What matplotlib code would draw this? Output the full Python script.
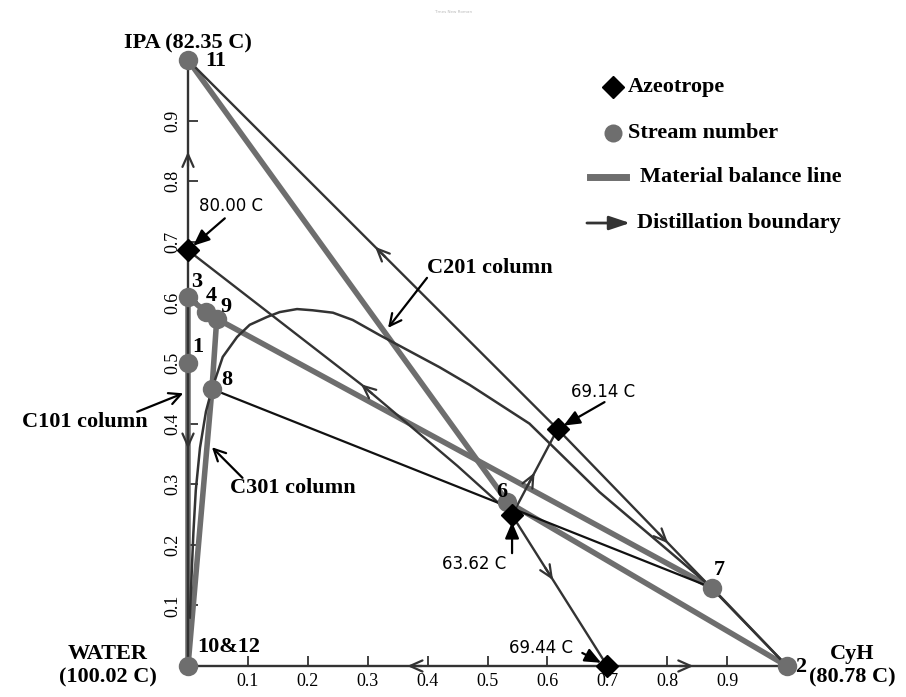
import numpy as np
import matplotlib.pyplot as plt

plt.rcParams['font.family'] = ['Liberation Serif', 'DejaVu Serif']

# x = CyH fraction, y = IPA fraction (water is the rest)
corner_names = ['WATER', 'CyH', 'IPA']
corner_x = [0.0, 1.0, 0.0]
corner_y = [0.0, 0.0, 1.0]

stream_names = ['11', '3', '4', '9', '1', '8', '6', '7', '2', '10&12']
stream_x = [0.0, 0.0, 0.030, 0.048, 0.0, 0.040, 0.533, 0.875, 1.0, 0.0]
stream_y = [1.0, 0.609, 0.584, 0.573, 0.500, 0.457, 0.271, 0.129, 0.0, 0.0]

aze_names = ['80.00 C', '69.14 C', '63.62 C', '69.44 C']
aze_x = [0.0, 0.617, 0.541, 0.700]
aze_y = [0.686, 0.391, 0.249, 0.0]

# material balance lines, by stream number
balance_lines = [['11', '6'], ['6', '2'], ['9', '7'], ['3', '4', '9'],
                 ['3', '1', '10&12'], ['9', '8', '10&12']]

# straight distillation boundaries: start, end, where the arrow sits
boundaries = [('80.00 C', 'IPA', 0.48), ('80.00 C', 'WATER', 0.46),
              ('69.44 C', 'WATER', 0.46), ('69.44 C', 'CyH', 0.44),
              ('69.14 C', 'IPA', 0.48), ('69.14 C', 'CyH', 0.46),
              ('63.62 C', '69.14 C', 0.42), ('63.62 C', '69.44 C', 0.39)]

# slightly bent boundary 63.62 C -> 80.00 C
bend_x = [0.541, 0.45, 0.29, 0.0]
bend_y = [0.249, 0.33, 0.464, 0.686]

# two-liquid envelope
env_x = [0.003, 0.006, 0.009, 0.013, 0.020, 0.030, 0.040, 0.058, 0.082, 0.103,
         0.132, 0.153, 0.182, 0.208, 0.242, 0.275, 0.320, 0.420, 0.470, 0.570,
         0.687, 0.875, 1.0]
env_y = [0.080, 0.150, 0.220, 0.290, 0.360, 0.420, 0.457, 0.510, 0.543, 0.563,
         0.576, 0.584, 0.589, 0.587, 0.583, 0.571, 0.546, 0.493, 0.464, 0.400,
         0.287, 0.129, 0.0]

tick_vals = [0.1, 0.2, 0.3, 0.4, 0.5, 0.6, 0.7, 0.8, 0.9]
tick_labels = ['0.1', '0.2', '0.3', '0.4', '0.5', '0.6', '0.7', '0.8', '0.9']

DARK = '#333333'
GRAY = '#6e6e6e'

pts = {}
for n, x, y in zip(corner_names, corner_x, corner_y):
    pts[n] = (x, y)
for n, x, y in zip(aze_names, aze_x, aze_y):
    pts[n] = (x, y)
spts = dict(zip(stream_names, zip(stream_x, stream_y)))

fig = plt.figure(figsize=(9.06, 6.97), dpi=100)
ax = fig.add_axes([188 / 906, 31 / 697, 599 / 906, 606 / 697])
ax.set_xlim(0, 1)
ax.set_ylim(0, 1)
for s in ax.spines.values():
    s.set_visible(False)


def arrow_on(xs, ys, t, color=DARK):
    xs = np.asarray(xs, float)
    ys = np.asarray(ys, float)
    seg = np.hypot(np.diff(xs), np.diff(ys))
    cum = np.concatenate([[0], np.cumsum(seg)])
    d = t * cum[-1]
    i = min(np.searchsorted(cum, d) - 1, len(seg) - 1)
    i = max(i, 0)
    f = (d - cum[i]) / seg[i]
    px = xs[i] + f * (xs[i + 1] - xs[i])
    py = ys[i] + f * (ys[i + 1] - ys[i])
    ux = (xs[i + 1] - xs[i]) / seg[i]
    uy = (ys[i + 1] - ys[i]) / seg[i]
    e = 0.012
    ax.annotate('', xy=(px + ux * e, py + uy * e), xytext=(px - ux * e, py - uy * e),
                arrowprops=dict(arrowstyle='->,head_length=0.9,head_width=0.4',
                                color=color, lw=1.6, shrinkA=0, shrinkB=0),
                annotation_clip=False)


# material balance lines
for names in balance_lines:
    ax.plot([spts[n][0] for n in names], [spts[n][1] for n in names],
            color=GRAY, lw=4, solid_capstyle='round', zorder=2, clip_on=False)

# triangle edges + boundaries
for a, b, t in boundaries:
    xs = [pts[a][0], pts[b][0]]
    ys = [pts[a][1], pts[b][1]]
    ax.plot(xs, ys, color=DARK, lw=1.7, zorder=3, clip_on=False)
    arrow_on(xs, ys, t)
ax.plot(bend_x, bend_y, color=DARK, lw=1.7, zorder=3)
arrow_on(bend_x, bend_y, 0.46)

ax.plot(env_x, env_y, color=DARK, lw=1.8, zorder=3, clip_on=False)
# tie line 8 - 7
ax.plot([spts['8'][0], spts['7'][0]], [spts['8'][1], spts['7'][1]],
        color='#111111', lw=1.6, zorder=3)

# streams
ax.plot(stream_x, stream_y, 'o', color=GRAY, ms=14, mec='none', zorder=5, clip_on=False)
ax.plot(aze_x, aze_y, 'D', color='black', ms=11, zorder=6, clip_on=False)

label_offsets = [(20, -1), (6.5, 11), (3.6, 11.5), (6.5, 8.6), (7, 11.5),
                 (11, 6.5), (-3.6, 7), (5, 13), (10, -0.5), (29, 13.5)]
for n, off in zip(stream_names, label_offsets):
    ax.annotate(n, spts[n], xytext=off, textcoords='offset points',
                ha='center', va='center', fontsize=16, fontweight='bold',
                zorder=7, annotation_clip=False)

# azeotrope temperatures: text offset, arrow start offset (points)
aze_text_off = [(31, 32), (32.4, 26.6), (-27.4, -35.3), (-48, 13)]
aze_arrow_off = [(26.5, 23), (33.8, 19.4), (0, -27.4), (-18, 9.4)]
for n, toff, aoff in zip(aze_names, aze_text_off, aze_arrow_off):
    ax.annotate(n, pts[n], xytext=toff, textcoords='offset points',
                ha='center', va='center', fontsize=12, family='DejaVu Sans',
                annotation_clip=False)
    ax.annotate('', pts[n], xytext=aoff, textcoords='offset points',
                arrowprops=dict(arrowstyle='-|>,head_length=0.7,head_width=0.3',
                                color='black', lw=1.6, shrinkA=0, shrinkB=5,
                                mutation_scale=14),
                zorder=7, annotation_clip=False)

# column labels
ax.annotate('C201 column', xy=(0.334, 0.558), xytext=(0.399, 0.657),
            ha='left', va='center', fontsize=16, fontweight='bold',
            arrowprops=dict(arrowstyle='->,head_length=0.6,head_width=0.3', color='black',
                            lw=1.6, relpos=(0, 0), patchA=None, shrinkA=0, shrinkB=0,
                            mutation_scale=14))
ax.annotate('C101 column', xy=(-0.008, 0.450), xytext=(-0.068, 0.403),
            ha='right', va='center', fontsize=16, fontweight='bold',
            arrowprops=dict(arrowstyle='->,head_length=0.6,head_width=0.3', color='black',
                            lw=1.6, relpos=(0.92, 1.0), patchA=None, shrinkA=0, shrinkB=0,
                            mutation_scale=14),
            annotation_clip=False)
ax.annotate('C301 column', xy=(0.040, 0.361), xytext=(0.070, 0.294),
            ha='left', va='center', fontsize=16, fontweight='bold',
            arrowprops=dict(arrowstyle='->,head_length=0.6,head_width=0.3', color='black',
                            lw=1.6, relpos=(0.1, 1.0), patchA=None, shrinkA=0, shrinkB=0,
                            mutation_scale=14))

# corner labels
ax.text(0.0, 1.028, 'IPA (82.35 C)', ha='center', va='center', fontsize=16,
        fontweight='bold')
ax.text(-0.134, 0.0, 'WATER\n(100.02 C)', ha='center', va='center', fontsize=16,
        fontweight='bold', linespacing=1.25)
ax.text(1.109, 0.0, 'CyH\n(80.78 C)', ha='center', va='center', fontsize=16,
        fontweight='bold', linespacing=1.25)

# ticks
ax.set_xticks(tick_vals)
ax.set_xticklabels(tick_labels, fontsize=13)
ax.set_yticks(tick_vals)
ax.set_yticklabels(tick_labels, fontsize=13, rotation=90, va='center')
ax.tick_params(direction='in', length=7, width=1.3, color=DARK, pad=5)

# legend drawn by hand
T = ax.transAxes
ax.plot([0.7095], [0.955], 'D', color='black', ms=11, transform=T, clip_on=False)
ax.text(0.7346, 0.955, 'Azeotrope', transform=T, va='center', fontsize=16,
        fontweight='bold')
ax.plot([0.7095], [0.8795], 'o', color=GRAY, ms=13, mec='none', transform=T,
        clip_on=False)
ax.text(0.7346, 0.8795, 'Stream number', transform=T, va='center', fontsize=16,
        fontweight='bold')
ax.plot([0.671, 0.731], [0.807, 0.807], color=GRAY, lw=5, transform=T, clip_on=False)
ax.text(0.7546, 0.807, 'Material balance line', transform=T, va='center',
        fontsize=16, fontweight='bold')
ax.annotate('', xy=(0.738, 0.731), xytext=(0.666, 0.731), xycoords=T, textcoords=T,
            arrowprops=dict(arrowstyle='-|>,head_length=0.9,head_width=0.3',
                            color=DARK, lw=2, shrinkA=0, shrinkB=0, mutation_scale=14))
ax.text(0.7496, 0.731, 'Distillation boundary', transform=T, va='center',
        fontsize=16, fontweight='bold')

fig.text(0.5, 0.983, 'Times New Roman', ha='center', va='center', fontsize=3,
         color='#bbbbbb', family='DejaVu Sans')

fig.savefig('out.png', dpi=100, facecolor='white')
